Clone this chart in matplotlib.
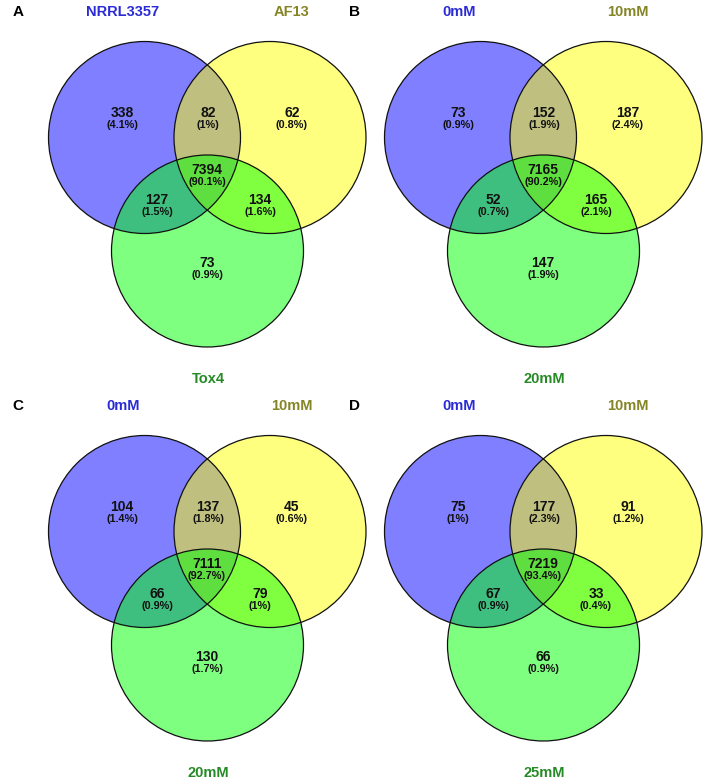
import matplotlib.pyplot as plt
from matplotlib.patches import Circle

plt.rcParams['font.family'] = ['Liberation Sans', 'DejaVu Sans']

# panel data: regions in order
# only1, 1&2, only2, 1&2&3, 1&3, 2&3, only3
panel_letters = ['A', 'B', 'C', 'D']
set_names = [
    ['NRRL3357', 'AF13', 'Tox4'],
    ['0mM', '10mM', '20mM'],
    ['0mM', '10mM', '20mM'],
    ['0mM', '10mM', '25mM'],
]
counts = [
    [338, 82, 62, 7394, 127, 134, 73],
    [73, 152, 187, 7165, 52, 165, 147],
    [104, 137, 45, 7111, 66, 79, 130],
    [75, 177, 91, 7219, 67, 33, 66],
]
pcts = [
    ['4.1%', '1%', '0.8%', '90.1%', '1.5%', '1.6%', '0.9%'],
    ['0.9%', '1.9%', '2.4%', '90.2%', '0.7%', '2.1%', '1.9%'],
    ['1.4%', '1.8%', '0.6%', '92.7%', '0.9%', '1%', '1.7%'],
    ['1%', '2.3%', '1.2%', '93.4%', '0.9%', '0.4%', '0.9%'],
]

fill_cols = ['#0000ff', '#ffff00', '#00ff00']
name_cols = ['#2b2bd6', '#858526', '#268a26']

# layout in panel pixel coords
W, H = 354, 392
origins = [(0, 0), (336, 0), (0, 394), (336, 394)]
centers = [(144.5, 137.5), (270, 137.5), (207.5, 251)]
r = 96
region_pos = [(122, 113), (208, 113), (292, 113), (207, 170),
              (157, 200), (260, 200), (207, 263)]
name_pos = [(123, 12), (292, 12), (208, 379)]

fig = plt.figure(figsize=(7.08, 7.84), dpi=100)

for i in range(4):
    x0, y0 = origins[i]
    ax = fig.add_axes([x0 / 708, 1 - (y0 + H) / 784, W / 708, H / 784])
    ax.set_xlim(0, W)
    ax.set_ylim(H, 0)
    ax.axis('off')

    for (cx, cy), c in zip(centers, fill_cols):
        ax.add_patch(Circle((cx, cy), r, facecolor=c, alpha=0.5, lw=0, clip_on=False))
    for cx, cy in centers:
        ax.add_patch(Circle((cx, cy), r, facecolor='none', edgecolor='#111111',
                            lw=0.9, clip_on=False))

    for (px, py), n, p in zip(region_pos, counts[i], pcts[i]):
        ax.text(px, py, str(n), ha='center', va='center', fontsize=10,
                fontweight='bold', color='#111111')
        ax.text(px, py + 12, '(' + p + ')', ha='center', va='center', fontsize=7.8,
                fontweight='bold', color='#111111')

    for (px, py), name, c in zip(name_pos, set_names[i], name_cols):
        ax.text(px, py, name, ha='center', va='center', fontsize=10.5,
                fontweight='bold', color=c, clip_on=False)

    ax.text(18, 12, panel_letters[i], ha='center', va='center', fontsize=11,
            fontweight='bold', color='black', clip_on=False)

fig.savefig('out.png', dpi=100)
